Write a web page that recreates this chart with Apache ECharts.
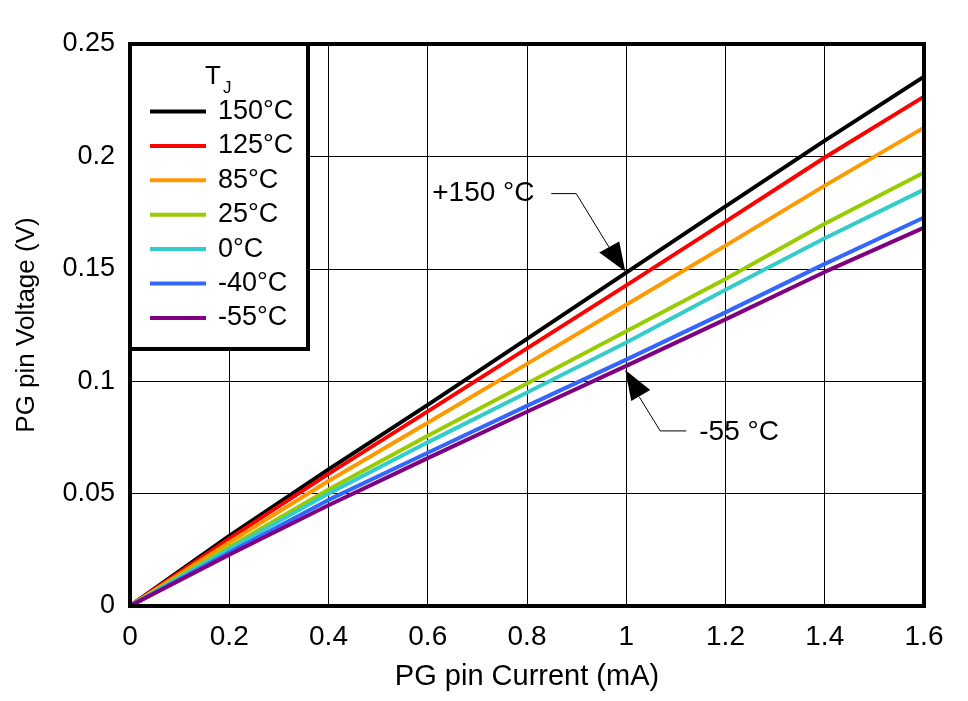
<!DOCTYPE html>
<html>
<head>
<meta charset="utf-8">
<script src="https://cdn.jsdelivr.net/npm/echarts@6/dist/echarts.min.js"></script>
<style>html,body{margin:0;padding:0;background:#fff}#c{width:968px;height:701px}</style>
</head>
<body>
<div id="c"></div>
<script>
var current = [0, 0.2, 0.4, 0.6, 0.8, 1.0, 1.2, 1.4, 1.6];
var seriesNames = ['150°C', '125°C', '85°C', '25°C', '0°C', '-40°C', '-55°C'];
var v150 = [0, 0.0312, 0.0608, 0.0895, 0.1188, 0.1483, 0.1778, 0.2070, 0.2355];
var v125 = [0, 0.0300, 0.0588, 0.0866, 0.1146, 0.1426, 0.1710, 0.1995, 0.2266];
var v85  = [0, 0.0283, 0.0556, 0.0815, 0.1077, 0.1340, 0.1603, 0.1870, 0.2128];
var v25  = [0, 0.0263, 0.0518, 0.0757, 0.0990, 0.1222, 0.1455, 0.1700, 0.1928];
var v0   = [0, 0.0253, 0.0500, 0.0728, 0.0950, 0.1172, 0.1407, 0.1636, 0.1852];
var vm40 = [0, 0.0238, 0.0472, 0.0682, 0.0890, 0.1096, 0.1306, 0.1522, 0.1728];
var vm55 = [0, 0.0228, 0.0448, 0.0658, 0.0864, 0.1068, 0.1275, 0.1486, 0.1683];
var colors = ['#000000', '#ff0000', '#ff9900', '#99cc00', '#33cccc', '#3366ff', '#800080'];
var annotations = [
  {text: '+150 °C', at: [1.0, 0.1483]},
  {text: '-55 °C', at: [1.0, 0.1068]}
];

var allVals = [v150, v125, v85, v25, v0, vm40, vm55];
var font = 'Liberation Sans, Arial, sans-serif';
var chart = echarts.init(document.getElementById('c'));
var series = allVals.map(function (vals, i) {
  return {
    name: seriesNames[i], type: 'line', showSymbol: false, symbol: 'none',
    data: current.map(function (x, j) { return [x, vals[j]]; }),
    lineStyle: {color: colors[i], width: 4}, itemStyle: {color: colors[i]},
    z: 3, animation: false
  };
});
chart.setOption({
  animation: false,
  grid: {left: 130, right: 44, top: 44, bottom: 95, show: true, borderColor: '#000', borderWidth: 4, backgroundColor: 'transparent', z: 4},
  xAxis: {
    type: 'value', min: 0, max: 1.6, interval: 0.2,
    name: 'PG pin Current (mA)', nameLocation: 'middle', nameGap: 56,
    nameTextStyle: {fontFamily: font, fontSize: 29, color: '#000'},
    axisLine: {show: false}, axisTick: {show: false},
    axisLabel: {fontFamily: font, fontSize: 28, color: '#000', margin: 17},
    splitLine: {show: true, lineStyle: {color: '#000', width: 1}}
  },
  yAxis: {
    type: 'value', min: 0, max: 0.25, interval: 0.05,
    name: 'PG pin Voltage (V)', nameLocation: 'middle', nameGap: 90,
    nameTextStyle: {fontFamily: font, fontSize: 26, color: '#000'},
    axisLine: {show: false}, axisTick: {show: false},
    axisLabel: {fontFamily: font, fontSize: 27, color: '#000', margin: 15},
    splitLine: {show: true, lineStyle: {color: '#000', width: 1}}
  },
  legend: {
    orient: 'vertical', left: 145, top: 93, itemWidth: 56, itemHeight: 4, itemGap: 7.4,
    icon: 'rect', z: 20, selectedMode: false,
    textStyle: {fontFamily: font, fontSize: 27, color: '#000', padding: [0, 0, 0, 7], lineHeight: 27},
    data: seriesNames
  },
  series: series
});

function drawGraphics() {
  var tl = chart.convertToPixel({gridIndex: 0}, [0, 0.25]);
  var g = [];
  g.push({type: 'rect', z: 10, shape: {x: tl[0], y: tl[1], width: 178, height: 305},
          style: {fill: '#fff', stroke: '#000', lineWidth: 4}});
  g.push({type: 'text', z: 11, x: 205, y: 64,
          style: {text: '{t|T}{s|J}', rich: {t: {fontFamily: font, fontSize: 26, fill: '#000', verticalAlign: 'top'}, s: {fontFamily: font, fontSize: 17, fill: '#000', padding: [16, 0, 0, 2]}}}});
  // +150 annotation
  var p1 = chart.convertToPixel({gridIndex: 0}, annotations[0].at);
  var tip = [p1[0] - 1, p1[1] - 1];
  g.push({type: 'text', z: 11, x: tip[0] - 193, y: tip[1] - 78,
          style: {text: annotations[0].text, fontFamily: font, fontSize: 28, fill: '#000', verticalAlign: 'middle'}});
  g.push({type: 'polyline', z: 11, shape: {points: [[tip[0] - 74, tip[1] - 78], [tip[0] - 49, tip[1] - 78], [tip[0] - 16, tip[1] - 24]]},
          style: {stroke: '#000', lineWidth: 1, fill: null}});
  g.push({type: 'polygon', z: 11, shape: {points: [[tip[0], tip[1]], [tip[0] - 26, tip[1] - 19], [tip[0] - 6, tip[1] - 30]]},
          style: {fill: '#000'}});
  // -55 annotation
  var p2 = chart.convertToPixel({gridIndex: 0}, annotations[1].at);
  var t2 = [p2[0] - 1, p2[1] + 4];
  g.push({type: 'text', z: 11, x: t2[0] + 74, y: t2[1] + 62,
          style: {text: annotations[1].text, fontFamily: font, fontSize: 28, fill: '#000', verticalAlign: 'middle'}});
  g.push({type: 'polyline', z: 11, shape: {points: [[t2[0] + 61, t2[1] + 61], [t2[0] + 35, t2[1] + 61], [t2[0] + 14, t2[1] + 27]]},
          style: {stroke: '#000', lineWidth: 1, fill: null}});
  g.push({type: 'polygon', z: 11, shape: {points: [[t2[0], t2[1]], [t2[0] + 6, t2[1] + 31], [t2[0] + 25, t2[1] + 20]]},
          style: {fill: '#000'}});
  chart.setOption({graphic: g});
}
drawGraphics();
</script>
</body>
</html>
